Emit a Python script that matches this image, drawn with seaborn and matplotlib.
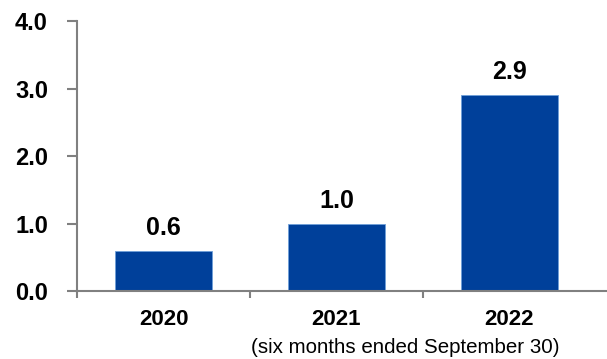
import matplotlib
matplotlib.use("Agg")
import matplotlib.pyplot as plt
import seaborn as sns
import pandas as pd

years = ["2020", "2021", "2022"]
values = [0.6, 1.0, 2.9]
value_labels = ["0.6", "1.0", "2.9"]
y_ticks = [0.0, 1.0, 2.0, 3.0, 4.0]
footnote = "(six months ended September 30)"

sns.set_style("white")
plt.rcParams["font.family"] = ["Liberation Sans", "DejaVu Sans"]
plt.rcParams["text.color"] = "black"
plt.rcParams["xtick.color"] = "#808080"
plt.rcParams["ytick.color"] = "#808080"
plt.rcParams["xtick.labelcolor"] = "black"
plt.rcParams["ytick.labelcolor"] = "black"

df = pd.DataFrame({"year": years, "value": values})

fig = plt.figure(figsize=(6.07, 3.59), dpi=100)
ax = fig.add_axes([0.127, 0.1894, 0.873, 0.7513])

sns.barplot(data=df, x="year", y="value", color="#00409a", width=0.56,
            saturation=1, edgecolor="#6f9fd8", linewidth=0.6, ax=ax)

ax.set_ylim(0, 4.0)
ax.set_xlim(-0.5, 2.565)
ax.set_yticks(y_ticks)
ax.set_yticklabels([f"{t:.1f}" for t in y_ticks], fontsize=17, fontweight="bold")
ax.set_xticks([0, 1, 2])
ax.set_xticklabels(years, fontsize=16, fontweight="bold")
ax.set_xlabel("")
ax.set_ylabel("")

# Category boundary ticks on the x axis
ax.set_xticks([-0.5, 0.5, 1.5], minor=True)
ax.tick_params(axis="x", which="major", bottom=True, length=0, pad=13,
               labelcolor="black")
ax.tick_params(axis="x", which="minor", bottom=True, length=5, width=1.5,
               color="#808080", direction="out")
ax.tick_params(axis="y", left=True, length=7, width=1.5, color="#808080",
               direction="out", pad=14, labelcolor="black")

for side in ("top", "right"):
    ax.spines[side].set_visible(False)
for side in ("left", "bottom"):
    ax.spines[side].set_color("#808080")
    ax.spines[side].set_linewidth(1.5)

for i, (v, lab) in enumerate(zip(values, value_labels)):
    ax.annotate(lab, (i, v), xytext=(0, 11.5), textcoords="offset points",
                ha="center", va="baseline", fontsize=18, fontweight="bold",
                color="black")

ax.text(1.40, -0.84, footnote, ha="center", va="center", fontsize=14.8,
        color="black", transform=ax.transData, clip_on=False)

fig.savefig("out.png", dpi=100)
